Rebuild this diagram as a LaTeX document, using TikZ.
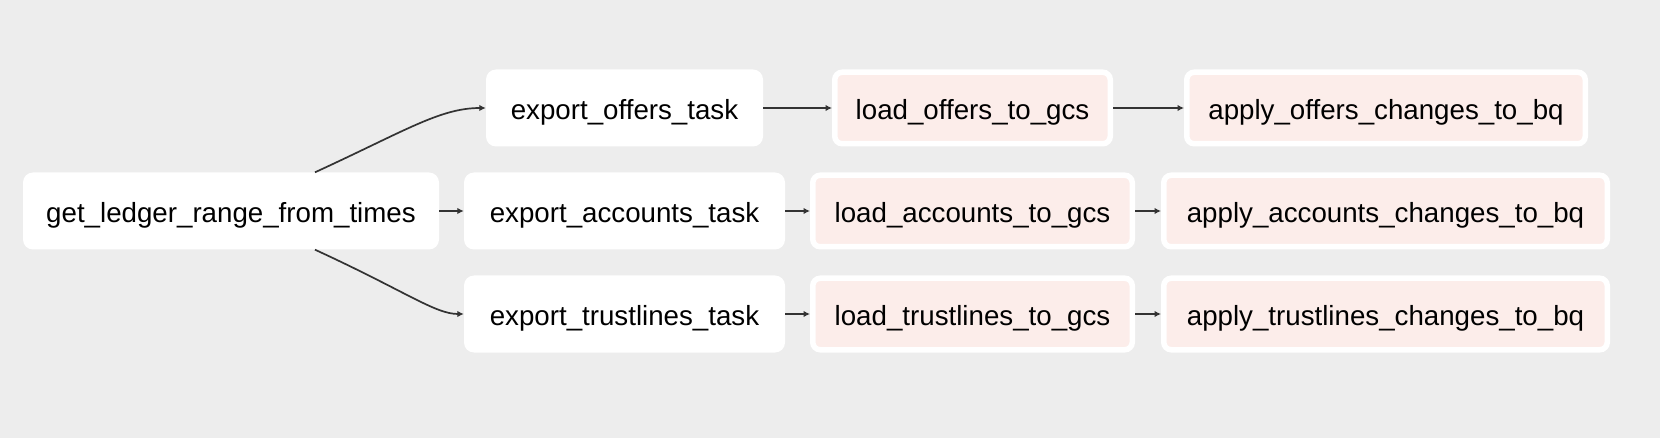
\documentclass[tikz,border=0pt]{standalone}
\usepackage{fontspec}
\setmainfont{Liberation Sans}
\usetikzlibrary{arrows.meta,calc}
\definecolor{bgc}{RGB}{237,237,237}
\definecolor{pinkc}{RGB}{252,237,234}
\definecolor{edgec}{RGB}{51,51,51}
\tikzset{
  plain/.style={fill=white, draw=none, rounded corners=10pt, inner sep=0pt,
    text height=27pt, text depth=3pt,
    minimum height=77pt, font=\fontsize{27.7}{33}\selectfont},
  pinkbox/.style={fill=pinkc, draw=white, line width=5.5pt, rounded corners=7.5pt, inner sep=0pt,
    text height=27pt, text depth=3pt,
    minimum height=71.5pt, font=\fontsize{27.7}{33}\selectfont},
  edge/.style={draw=edgec, line width=1.7pt, -{Latex[length=6.5pt,width=6.5pt]}}
}
\begin{document}
\begin{tikzpicture}[x=1pt,y=-1pt]
\fill[bgc] (0,0) rectangle (1660,438);
\useasboundingbox (0,0) rectangle (1660,438);
% nodes
\node[plain, minimum width=416pt] (get) at (231,211) {get\_ledger\_range\_from\_times};
\node[plain, minimum width=277pt] (exo) at (624.5,108) {export\_offers\_task};
\node[plain, minimum width=321pt] (exa) at (624.5,211) {export\_accounts\_task};
\node[plain, minimum width=321pt] (ext) at (624.5,314) {export\_trustlines\_task};
\node[pinkbox, minimum width=275.5pt] (lo) at (972.5,108) {load\_offers\_to\_gcs};
\node[pinkbox, minimum width=319.5pt] (la) at (972.5,211) {load\_accounts\_to\_gcs};
\node[pinkbox, minimum width=319.5pt] (lt) at (972.5,314) {load\_trustlines\_to\_gcs};
\node[pinkbox, minimum width=398.5pt] (ao) at (1386,108) {apply\_offers\_changes\_to\_bq};
\node[pinkbox, minimum width=443.5pt] (aa) at (1385.5,211) {apply\_accounts\_changes\_to\_bq};
\node[pinkbox, minimum width=443.5pt] (at) at (1385.5,314) {apply\_trustlines\_changes\_to\_bq};
% edge start points on the source box
\coordinate (gtop) at ($(get.north)+(84,0)$);
\coordinate (gbot) at ($(get.south)+(84,0)$);
% edges
\draw[edge] (gtop) .. controls (405,131) and (440,108) .. (exo.west);
\draw[edge] (get.east) -- (exa.west);
\draw[edge] (gbot) .. controls (405,291) and (435,314) .. (ext.west);
\draw[edge] (exo.east) -- (lo.west);
\draw[edge] (exa.east) -- (la.west);
\draw[edge] (ext.east) -- (lt.west);
\draw[edge] (lo.east) -- (ao.west);
\draw[edge] (la.east) -- (aa.west);
\draw[edge] (lt.east) -- (at.west);
\end{tikzpicture}
\end{document}
